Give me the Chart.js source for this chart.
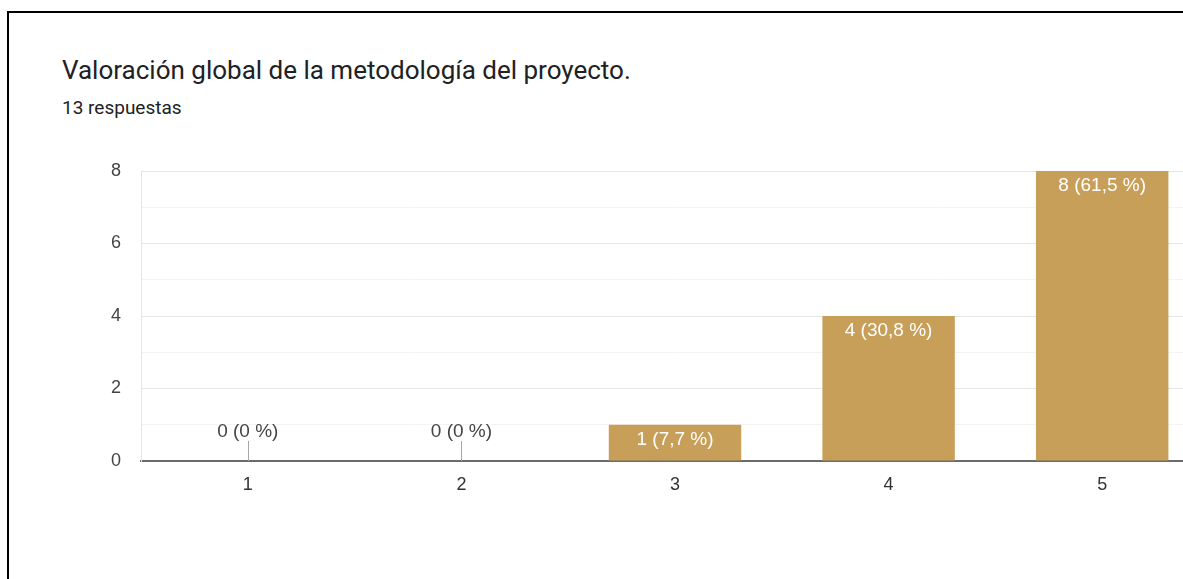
<!DOCTYPE html>
<html>
<head>
<meta charset="utf-8">
<script src="https://cdn.jsdelivr.net/npm/chart.js/dist/chart.umd.min.js"></script>
<style>
    body { margin: 0; overflow: hidden; background: #fff; width: 1183px; height: 579px; position: relative; }
    .marco { position: absolute; left: 7px; top: 11px; width: 1300px; height: 700px; border-left: 2px solid #000; border-top: 2px solid #000; }
    .titulo { position: absolute; left: 62px; top: 55px; font-family: Roboto, sans-serif; font-size: 26px; color: #202124; white-space: nowrap; }
    .sub { position: absolute; left: 62px; top: 96px; font-family: Roboto, sans-serif; font-size: 19px; color: #202124; white-space: nowrap; }
    .graf { position: absolute; left: 0; top: 0; width: 1209px; height: 579px; }
</style>
</head>
<body>
<div class="marco"></div>
<div class="titulo">Valoración global de la metodología del proyecto.</div>
<div class="sub">13 respuestas</div>
<div class="graf"><canvas id="grafico"></canvas></div>

<script>
    // Datos
    const categorias = ['1', '2', '3', '4', '5'];
    const respuestas = [0, 0, 1, 4, 8];
    const porcentajes = ['0', '0', '7,7', '30,8', '61,5'];

    Chart.defaults.font.family = "'Liberation Sans', Arial, sans-serif";

    // Etiquetas encima / dentro de las barras
    const etiquetas = {
        id: 'etiquetas',
        afterDatasetsDraw(chart) {
            const ctx = chart.ctx;
            const meta = chart.getDatasetMeta(0);
            ctx.save();
            ctx.font = "19px 'Liberation Sans', Arial, sans-serif";
            ctx.textAlign = 'center';
            ctx.textBaseline = 'middle';
            meta.data.forEach((bar, i) => {
                const txt = respuestas[i] + ' (' + porcentajes[i] + ' %)';
                if (respuestas[i] > 0) {
                    ctx.fillStyle = '#ffffff';
                    ctx.fillText(txt, bar.x, bar.y + 15);
                } else {
                    ctx.strokeStyle = '#a8a8a8';
                    ctx.lineWidth = 1;
                    ctx.beginPath();
                    ctx.moveTo(Math.round(bar.x) + 0.5, bar.base);
                    ctx.lineTo(Math.round(bar.x) + 0.5, bar.base - 20);
                    ctx.stroke();
                    ctx.fillStyle = '#444444';
                    ctx.fillText(txt, bar.x, bar.base - 29);
                }
            });
            ctx.restore();
        }
    };

    const ctx = document.getElementById('grafico').getContext('2d');

    const grafico = new Chart(ctx, {
        type: 'bar',
        data: {
            labels: categorias,
            datasets: [{
                data: respuestas,
                backgroundColor: '#c89f58',
                barPercentage: 0.62,
                categoryPercentage: 1
            }]
        },
        plugins: [etiquetas],
        options: {
            responsive: true,
            maintainAspectRatio: false,
            animation: false,
            layout: {
                padding: { left: 0, right: 0, top: 171, bottom: 58 }
            },
            plugins: {
                legend: { display: false },
                tooltip: { enabled: false }
            },
            scales: {
                x: {
                    afterFit: (s) => { s.height = 60; },
                    grid: { color: 'transparent', drawTicks: false },
                    border: { color: '#6b6b6b', width: 2 },
                    ticks: { color: '#333', padding: 13, font: { size: 18 } }
                },
                y: {
                    min: 0,
                    max: 8,
                    afterFit: (s) => { s.width = 141; },
                    grid: {
                        drawTicks: false,
                        color: (c) => c.tick.value === 0 ? 'transparent' : (c.tick.value % 2 ? '#f3f3f3' : '#e6e6e6')
                    },
                    border: { color: '#e6e6e6', width: 1 },
                    ticks: {
                        stepSize: 1,
                        color: '#444',
                        padding: 20,
                        font: { size: 18 },
                        callback: (v) => v % 2 === 0 ? v : ''
                    }
                }
            }
        }
    });
</script>
</body>
</html>
